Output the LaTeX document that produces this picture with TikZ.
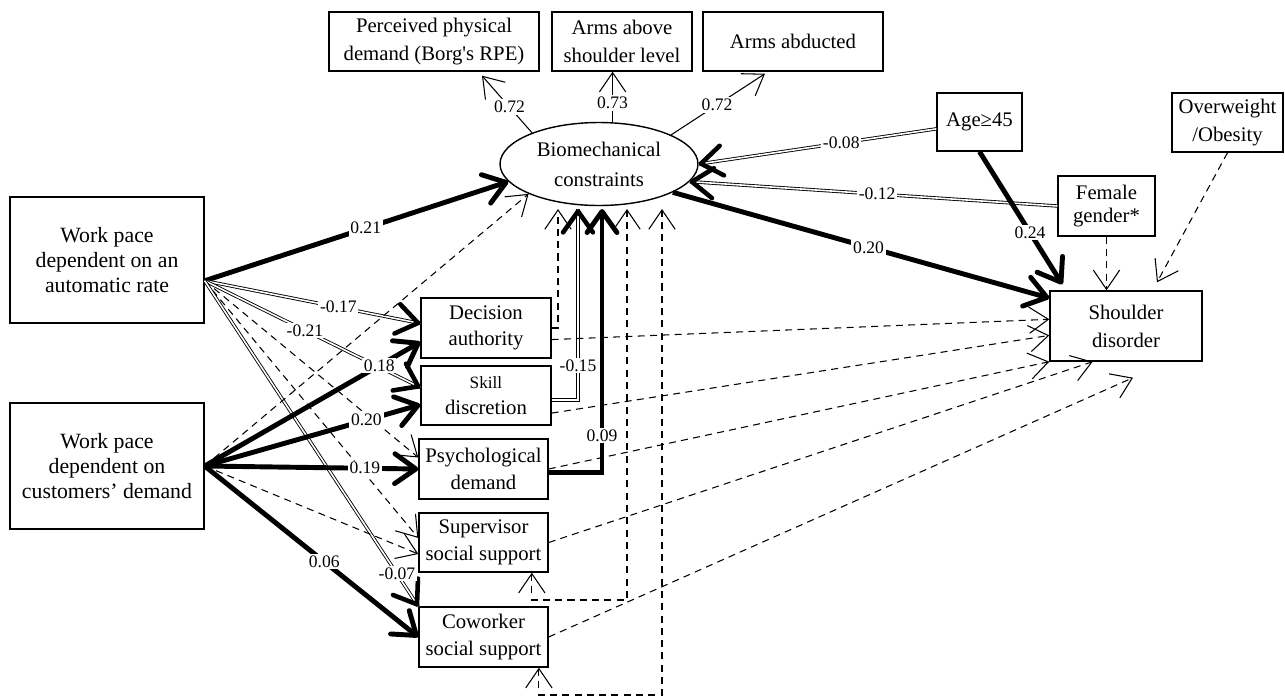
\documentclass[tikz,border=0pt]{standalone}
\usepackage{fontspec}
\setmainfont{Liberation Serif}[Ligatures=TeXOff]
\usetikzlibrary{shapes.geometric,arrows.meta,calc,decorations.markings}

\begin{document}
\begin{tikzpicture}[x=0.02cm, y=-0.02cm, >={Straight Barb[length=11pt,width=15pt]},
  box/.style={draw, line width=0.8pt, align=center, inner sep=0pt, font=\fontsize{11.8}{16}\selectfont},
  lbl/.style={fill=white, inner sep=1pt, font=\fontsize{10}{11}\selectfont},
  ln/.style={line width=0.6pt, ->},
  dsh/.style={ln, dash pattern=on 4pt off 3pt},
  thk/.style={line width=2.8pt, -{Straight Barb[length=12pt,width=17pt,round]}},
  neg/.style={double, double distance=0.9pt, line width=0.5pt,
    postaction={decorate, decoration={markings, mark=at position 1 with
      {\pgfsetinnerlinewidth{0pt}\pgfsetlinewidth{2.6pt}\arrow{Straight Barb[length=12pt,width=17pt,round]}}}}}]
  \useasboundingbox (0,0) rectangle (1285,697);
  % ------- latent factor and its indicators -------
  \node[box, minimum width=4.2cm, minimum height=1.18cm] (pp) at (434,41.5) {Perceived physical\\demand (Borg's RPE)};
  \node[box, minimum width=2.8cm, minimum height=1.18cm] (ab) at (622,41.5) {Arms above\\shoulder level};
  \node[box, minimum width=3.6cm, minimum height=1.18cm] (ad) at (793,41.5) {Arms abducted};
  \node[box, ellipse, minimum width=3.96cm, minimum height=1.66cm, font=\fontsize{11.8}{17}\selectfont] (bc) at (599,164) {Biomechanical\\constraints};
  % ------- exposures, mediators, outcome -------
  \node[box, minimum width=3.88cm, minimum height=2.52cm, font=\fontsize{12.4}{14.2}\selectfont] (wa) at (107,260) {Work pace\\dependent on an\\automatic rate};
  \node[box, minimum width=3.88cm, minimum height=2.52cm, font=\fontsize{12.4}{14.2}\selectfont] (wc) at (107,466) {Work pace\\dependent on\\customers’ demand};
  \node[box, minimum width=2.6cm, minimum height=1.2cm, font=\fontsize{11.8}{15}\selectfont] (dm) at (486,328) {Decision\\authority};
  \node[box, minimum width=2.6cm, minimum height=1.18cm, font=\fontsize{11.8}{15}\selectfont] (sk) at (486,395.5) {{\fontsize{9.8}{11}\selectfont Skill}\\discretion};
  \node[box, minimum width=2.58cm, minimum height=1.2cm, font=\fontsize{11.8}{15}\selectfont] (ps) at (483.5,469) {Psychological\\demand};
  \node[box, minimum width=2.58cm, minimum height=1.18cm, font=\fontsize{11.8}{15}\selectfont] (su) at (483.5,542.5) {Supervisor\\social support};
  \node[box, minimum width=2.58cm, minimum height=1.2cm, font=\fontsize{11.8}{15}\selectfont] (cw) at (483.5,637) {Coworker\\social support};
  \node[box, minimum width=1.7cm, minimum height=1.16cm] (ag) at (979.5,122) {Age≥45};
  \node[box, minimum width=2.22cm, minimum height=1.18cm] (ow) at (1227.5,122.5) {Overweight\\/Obesity};
  \node[box, minimum width=1.94cm, minimum height=1.2cm, font=\fontsize{11.8}{13.5}\selectfont] (fe) at (1106.5,206) {Female\\gender*};
  \node[box, minimum width=3.04cm, minimum height=1.4cm] (sd) at (1126,326) {Shoulder\\disorder};
  % free ends
  \coordinate (ppt) at ($(pp.south)+(48,4)$);
  \coordinate (adt) at ($(ad.south)+(-28,2)$);
  \coordinate (in1) at (558,209);
  \coordinate (in2) at (578,209);
  \coordinate (in3) at (602,209);
  \coordinate (in4) at (627,209);
  \coordinate (in5) at (662,209);
  \coordinate (lp1) at (627,600);
  \coordinate (lp2) at (662,695);
  \coordinate (cwt) at ($(sd.south)+(7,16)$);
  \coordinate (agt) at ($(sd.north west)+(13,-6)$);
  \coordinate (owt) at ($(sd.north)+(31,-8)$);
  % indicators
  \draw[ln] (bc.155) -- node[lbl, pos=0.45] {0.72} (ppt);
  \draw[ln] (bc.72) -- node[lbl, pos=0.38] {0.73} (bc.72 |- ab.south);
  \draw[ln] (bc.22) -- node[lbl, pos=0.49] {0.72} (adt);
  % automatic rate
  \draw[thk] (wa.-12) -- node[lbl, pos=0.53] {0.21} (bc.191);
  \draw[neg] (wa.-12) -- node[lbl, pos=0.62] {-0.17} (dm.176);
  \draw[neg] (wa.-12) -- node[lbl, pos=0.465] {-0.21} (sk.173);
  \draw[dsh] (wa.-12) -- (ps.170);
  \draw[dsh] (wa.-12) -- (su.176);
  \draw[neg] (wa.-12) -- node[lbl, pos=0.9] {-0.07} (cw.north west);
  % customers' demand
  \draw[dsh] (wc.east) -- (bc.203);
  \draw[thk] (wc.east) -- node[lbl, pos=0.81] {0.18} (dm.192);
  \draw[thk] (wc.east) -- node[lbl, pos=0.75] {0.20} (sk.188);
  \draw[thk] (wc.east) -- node[lbl, pos=0.75] {0.19} (ps.west);
  \draw[dsh] (wc.east) -- (su.190);
  \draw[thk] (wc.east) -- node[lbl, pos=0.56] {0.06} (cw.west);
  % mediators -> biomechanical constraints
  \draw[dsh] (dm.east) -| (in1);
  \draw[neg] (sk.-4) -| node[lbl, pos=0.59] {-0.15} (in2);
  \draw[thk] (ps.-3) -| node[lbl, pos=0.57] {0.09} (in3);
  \draw[dsh, <->] (su.-32) |- (lp1) -- (in4);
  \draw[dsh, <->] (cw.-29) |- (lp2) -- (in5);
  % mediators -> shoulder disorder
  \draw[dsh] (dm.-10) -- (sd.175);
  \draw[dsh] (sk.-15) -- (sd.187);
  \draw[dsh] (ps.east) -- (sd.south west);
  \draw[dsh] (su.east) -- (sd.227);
  \draw[dsh] (cw.east) -- (cwt);
  % personal factors
  \draw[neg] (ag.189) -- node[lbl, pos=0.4] {-0.08} (bc.east);
  \draw[neg] (fe.west) -- node[lbl, pos=0.49] {-0.12} (bc.-11);
  \draw[thk] (bc.-21) -- node[lbl, pos=0.52] {0.20} (sd.160);
  \draw[thk] (ag.south) -- node[lbl, pos=0.61] {0.24} (agt);
  \draw[dsh] (fe.south) -- (fe.south |- sd.north);
  \draw[dsh] (ow.south) -- (owt);
\end{tikzpicture}
\end{document}
